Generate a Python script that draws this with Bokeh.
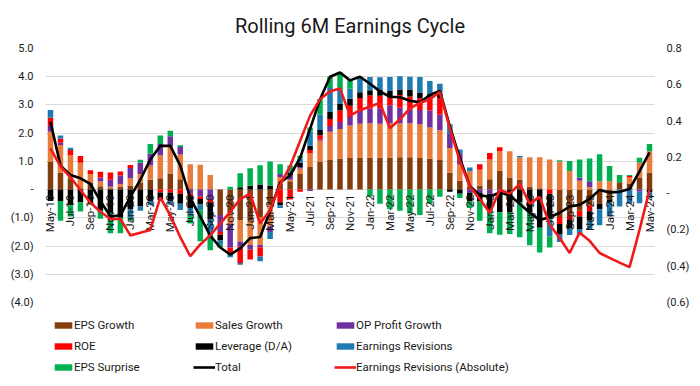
import numpy as np
from bokeh.plotting import figure
from bokeh.layouts import column
from bokeh.models import (Range1d, LinearAxis, FixedTicker, CustomJSTickFormatter,
                          Legend, LegendItem, ColumnDataSource)
from bokeh.embed import file_html
from bokeh.resources import INLINE

months = ["May-19", "Jun-19", "Jul-19", "Aug-19", "Sep-19", "Oct-19", "Nov-19", "Dec-19",
          "Jan-20", "Feb-20", "Mar-20", "Apr-20", "May-20", "Jun-20", "Jul-20", "Aug-20",
          "Sep-20", "Oct-20", "Nov-20", "Dec-20", "Jan-21", "Feb-21", "Mar-21", "Apr-21",
          "May-21", "Jun-21", "Jul-21", "Aug-21", "Sep-21", "Oct-21", "Nov-21", "Dec-21",
          "Jan-22", "Feb-22", "Mar-22", "Apr-22", "May-22", "Jun-22", "Jul-22", "Aug-22",
          "Sep-22", "Oct-22", "Nov-22", "Dec-22", "Jan-23", "Feb-23", "Mar-23", "Apr-23",
          "May-23", "Jun-23", "Jul-23", "Aug-23", "Sep-23", "Oct-23", "Nov-23", "Dec-23",
          "Jan-24", "Feb-24", "Mar-24", "Apr-24", "May-24"]

eps_growth = [1.0, 0.6, 0.4, 0.05, 0.25, 0.12, 0.05, 0.1, 0.15, 0.25,
              0.35, 0.4, 0.57, 0.37, 0.05, 0.0, 0.0, -0.9, -0.8, -1.08,
              -1.08, -0.97, -0.55, 0.2, 0.3, 0.55, 0.8, 0.98, 1.05, 1.1,
              1.12, 1.13, 1.13, 1.13, 1.14, 1.15, 1.15, 1.12, 1.1, 1.05,
              0.6, 0.31, 0.1, 0.15, 0.37, 0.66, 0.43, 0.35, 0.1, 0.05,
              0.0, -0.97, -0.9, -0.75, -0.55, -0.5, -0.35, 0.26, 0.2, 0.43, 0.6]
sales_growth = [1.05, 0.98, 0.82, 0.9, 0.3, 0.17, 0.05, 0.1, 0.25, 0.3,
                0.5, 0.82, 0.97, 0.87, 0.85, 0.88, 0.52, 0.0, -0.45, -0.76,
                -0.88, -0.99, -0.75, 0.25, 0.05, 0.2, 0.5, 0.75, 1.0, 1.05,
                1.15, 1.2, 1.22, 1.2, 1.2, 1.2, 1.2, 1.2, 1.1, 1.05,
                0.87, 0.58, 0.55, 0.55, 0.7, 0.7, 0.93, 0.79, 1.05, 1.1,
                1.07, 1.0, 0.66, 0.31, 0.08, 0.3, 0.3, 0.0, 0.23, 0.52, 0.76]
op_profit_growth = [0.2, 0.08, 0.0, 0.0, 0.0, 0.14, 0.25, 0.3, 0.37, 0.41,
                    0.42, 0.4, 0.35, 0.27, -0.15, -0.25, -0.35, -0.6, -0.8, -0.18,
                    -0.17, -0.08, -0.2, 0.1, 0.15, 0.05, -0.05, 0.05, 0.2, 0.25,
                    0.3, 0.5, 0.52, 0.55, 0.65, 0.55, 0.5, 0.5, 0.6, 0.55,
                    0.5, 0.4, -0.1, -0.1, -0.15, -0.1, 0.0, 0.0, 0.0, 0.0,
                    0.0, 0.0, 0.0, 0.12, 0.22, 0.0, 0.0, 0.0, 0.0, -0.08, 0.0]
roe = [0.3, 0.15, 0.18, 0.24, 0.14, 0.2, 0.26, 0.14, 0.1, 0.0,
       0.0, -0.1, -0.1, -0.15, -0.1, -0.08, -0.1, -0.1, -0.25, -0.58,
       -0.35, -0.33, 0.0, -0.45, -0.35, -0.08, 0.1, 0.15, 0.25, 0.4,
       0.4, 0.42, 0.47, 0.45, 0.3, 0.45, 0.45, 0.42, 0.5, 0.6,
       0.0, 0.0, 0.0, 0.2, 0.23, 0.14, 0.0, 0.0, 0.0, 0.0,
       -0.15, -0.25, -0.18, -0.2, -0.22, 0.0, 0.0, 0.0, 0.05, 0.0, 0.0]
leverage = [-0.4, -0.4, -0.55, -0.45, -0.5, -0.75, -0.85, -1.0, -0.7, -0.6,
            -0.4, -0.27, -0.3, -0.35, -0.4, -0.2, -0.6, -0.2, 0.0, 0.08,
            0.14, 0.18, 0.15, -0.1, 0.1, 0.15, 0.15, 0.18, 0.25, 0.25,
            0.25, 0.2, 0.18, 0.2, 0.2, 0.2, 0.25, 0.2, 0.1, 0.15,
            -0.08, -0.15, -0.3, -0.3, -0.6, -0.7, -0.8, -0.45, -0.8, -1.35,
            -0.9, -0.35, -0.3, -0.45, -0.33, -0.2, -0.1, 0.0, 0.0, 0.0, -0.1]
earnings_revisions = [0.27, 0.11, 0.08, 0.0, 0.0, 0.0, 0.0, 0.0, -0.3, -0.15,
                      -0.15, 0.0, -0.14, -0.22, -0.25, -0.2, -0.5, -0.15, -0.1, -0.06,
                      0.0, -0.17, -0.25, -0.1, 0.05, 0.15, 0.5, 0.55, 0.85, 0.5,
                      0.35, 0.55, 0.47, 0.45, 0.5, 0.47, 0.45, 0.55, 0.45, 0.35,
                      0.35, 0.13, 0.13, 0.0, 0.0, 0.0, 0.0, 0.05, 0.0, 0.0,
                      -0.6, -0.29, -0.23, -0.21, -0.33, -0.56, -0.5, -0.6, -0.5, -0.4, -0.2]
eps_surprise = [0.0, -0.7, -0.4, -0.33, 0.0, -0.28, -0.7, -0.55, -0.1, 0.1,
                0.35, 0.3, 0.2, 0.06, -0.3, -1.1, -0.6, -0.1, 0.1, 0.5,
                0.62, 0.68, 0.85, 0.35, 0.2, 0.1, 0.15, 0.55, 0.4, 0.6,
                0.3, 0.0, -0.24, -0.5, -0.7, -0.75, -0.85, -0.9, -0.5, -0.25,
                0.0, -0.15, -0.25, -0.7, -0.8, -0.8, -0.77, -1.24, -1.17, -0.88,
                -0.4, 0.04, 0.35, 0.64, 0.8, 0.95, 0.54, 0.26, 0.04, 0.18, 0.26]
total = [2.4, 0.85, 0.52, 0.4, 0.2, -0.4, -0.95, -0.91, -0.26, 0.35,
         1.07, 1.55, 1.55, 0.85, -0.3, -0.96, -1.63, -2.05, -2.3, -2.08,
         -1.72, -1.68, -0.75, 0.25, 0.5, 1.12, 2.15, 3.2, 4.0, 4.15,
         3.87, 4.0, 3.75, 3.48, 3.29, 3.27, 3.15, 3.09, 3.35, 3.5,
         2.24, 1.12, 0.13, -0.2, -0.25, -0.1, -0.21, -0.5, -0.82, -1.08,
         -0.98, -0.82, -0.6, -0.54, -0.33, -0.01, -0.1, -0.08, 0.02, 0.65, 1.32]
revisions_absolute = [0.25, 0.15, 0.09, 0.02, -0.05, -0.1, -0.14, -0.14, -0.23, -0.215,
                      -0.2, -0.02, -0.12, -0.24, -0.345, -0.28, -0.23, -0.165, -0.1, -0.03,
                      0.0, -0.165, -0.09, 0.05, 0.15, 0.29, 0.43, 0.52, 0.565, 0.58,
                      0.43, 0.46, 0.48, 0.50, 0.36, 0.41, 0.47, 0.50, 0.52, 0.56,
                      0.36, 0.18, 0.04, -0.03, -0.105, 0.02, 0.0, 0.054, -0.055, -0.018,
                      -0.17, -0.245, -0.327, -0.215, -0.26, -0.327, -0.354, -0.38, -0.405, -0.2, 0.02]

left_ticks = [-4, -3, -2, -1, 0, 1, 2, 3, 4, 5]
right_ticks = [-0.6, -0.4, -0.2, 0.0, 0.2, 0.4, 0.6, 0.8]

series = [
    ("EPS Growth", eps_growth, "#843C0C"),
    ("Sales Growth", sales_growth, "#E97C3A"),
    ("OP Profit Growth", op_profit_growth, "#7030A0"),
    ("ROE", roe, "#FF0000"),
    ("Leverage (D/A)", leverage, "#000000"),
    ("Earnings Revisions", earnings_revisions, "#1F7AB0"),
    ("EPS Surprise", eps_surprise, "#00B050"),
]
TOTAL_COLOR = "#000000"
ABS_COLOR = "#F01A1A"

FONT = "Roboto"
TXT = "#1a1a1a"
W = 692

n = len(months)
idx = np.arange(n)

p = figure(width=W, height=315, output_backend="svg", toolbar_location=None,
           x_range=Range1d(-0.5, n - 0.5), y_range=Range1d(-4, 5),
           min_border_left=45, min_border_right=37, min_border_top=42, min_border_bottom=13,
           background_fill_color="white", border_fill_color="white")
p.outline_line_color = None
p.title.text = "Rolling 6M Earnings Cycle"
p.title.align = "center"
p.title.text_font = "Roboto"
p.title.text_font_size = "20px"
p.title.text_font_style = "normal"
p.title.text_color = TXT
p.title.standoff = 22

fmt_code = """
if (Math.abs(tick) < 1e-9) { return "-"; }
const s = Math.abs(tick).toFixed(1);
return tick < 0 ? "(" + s + ")" : s;
"""

def style_axis(ax):
    ax.axis_line_color = None
    ax.major_tick_line_color = None
    ax.minor_tick_line_color = None
    ax.major_tick_out = 0
    ax.major_tick_in = 0
    ax.minor_tick_out = 0
    ax.minor_tick_in = 0
    ax.major_label_standoff = 12
    ax.major_label_text_font = FONT
    ax.major_label_text_font_size = "11px"
    ax.major_label_text_color = TXT

# left axis
ya = p.yaxis[0]
ya.ticker = FixedTicker(ticks=left_ticks)
ya.formatter = CustomJSTickFormatter(code=fmt_code)
style_axis(ya)
p.ygrid.ticker = FixedTicker(ticks=left_ticks)
p.ygrid.grid_line_color = "#d9d9d9"
p.xgrid.visible = False
p.xaxis.visible = False

# right axis
p.extra_y_ranges = {"r": Range1d(-0.6, 0.8)}
ra = LinearAxis(y_range_name="r", ticker=FixedTicker(ticks=right_ticks),
                formatter=CustomJSTickFormatter(code=fmt_code))
style_axis(ra)
p.add_layout(ra, "right")

# stacked bars (positives up, negatives down, in series order)
pos_base = np.zeros(n)
neg_base = np.zeros(n)
for name, vals, color in series:
    v = np.array(vals, dtype=float)
    base = np.where(v >= 0, pos_base, neg_base)
    top = base + v
    p.vbar(x=idx, width=0.55, bottom=base, top=top, fill_color=color, line_color=None)
    pos_base = np.where(v >= 0, top, pos_base)
    neg_base = np.where(v < 0, top, neg_base)

# category labels along the zero line
lab_idx = list(range(0, n, 2))
lab_src = ColumnDataSource(dict(x=lab_idx, y=[0] * len(lab_idx), t=[months[i] for i in lab_idx]))
p.text(x="x", y="y", text="t", source=lab_src, angle=np.pi / 2, text_align="right",
       text_baseline="middle", y_offset=5, text_font={"value": FONT},
       text_font_size="11.5px", text_color=TXT)

p.line(idx, total, line_color=TOTAL_COLOR, line_width=2.6)
p.line(idx, revisions_absolute, line_color=ABS_COLOR, line_width=2.6, y_range_name="r")

# legend in its own strip below the chart (swatch renderers have zero size)
lf = figure(width=W, height=62, output_backend="svg", toolbar_location=None,
            x_axis_type=None, y_axis_type=None, x_range=Range1d(0, 1), y_range=Range1d(0, 1),
            min_border_left=45, min_border_right=37, min_border_top=0, min_border_bottom=0,
            background_fill_color="white", border_fill_color="white")
lf.outline_line_color = None
lf.xgrid.visible = False
lf.ygrid.visible = False
items = []
for name, vals, color in series:
    r = lf.vbar(x=[0.5], width=0.5, bottom=[0.5], top=[0.5], fill_color=color, line_color=None)
    items.append(LegendItem(label=name, renderers=[r]))
rt = lf.line(x=[0.5, 0.5], y=[0.5, 0.5], line_color=TOTAL_COLOR, line_width=2.6)
rr = lf.line(x=[0.5, 0.5], y=[0.5, 0.5], line_color=ABS_COLOR, line_width=2.6)
items.append(LegendItem(label="Total", renderers=[rt]))
items.append(LegendItem(label="Earnings Revisions (Absolute)", renderers=[rr]))
legend = Legend(items=items, orientation="horizontal", ncols=3, location=(7, 0),
                glyph_width=22, glyph_height=8, label_height=20, label_width=118,
                label_standoff=0, spacing=1, padding=0, margin=0,
                border_line_color=None, background_fill_alpha=0,
                label_text_font=FONT, label_text_font_size="11.5px", label_text_color=TXT)
lf.add_layout(legend, "center")

layout = column(p, lf, spacing=0)
open("out.html", "w").write(file_html(layout, INLINE))
